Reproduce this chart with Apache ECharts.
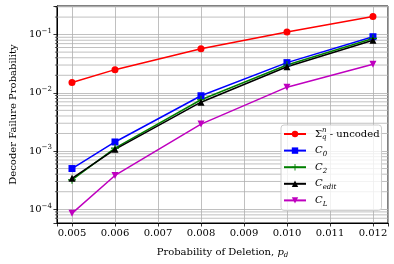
<!DOCTYPE html>
<html><head><meta charset="utf-8">
<script src="https://cdn.jsdelivr.net/npm/echarts@6/dist/echarts.min.js"></script>
<style>html,body{margin:0;padding:0;background:#fff}#c{width:394px;height:264px}</style>
</head><body><div id="c"></div>
<script>
// ---- data ----
const xValues = [0.005, 0.006, 0.008, 0.010, 0.012];
const seriesNames = ['uncoded', 'C0', 'C2', 'Cedit', 'CL'];
const uncoded = [0.0150, 0.025, 0.057, 0.111, 0.204];
const c0 = [5.0e-4, 1.43e-3, 8.9e-3, 0.033, 0.092];
const c2 = [3.2e-4, 1.12e-3, 7.6e-3, 0.030, 0.086];
const cEdit = [3.4e-4, 1.07e-3, 6.9e-3, 0.028, 0.080];
const cL = [8.5e-5, 3.8e-4, 2.9e-3, 0.0125, 0.031];
const yMinorTicks = [7e-5, 8e-5, 9e-5,
  2e-4, 3e-4, 4e-4, 5e-4, 6e-4, 7e-4, 8e-4, 9e-4,
  2e-3, 3e-3, 4e-3, 5e-3, 6e-3, 7e-3, 8e-3, 9e-3,
  2e-2, 3e-2, 4e-2, 5e-2, 6e-2, 7e-2, 8e-2, 9e-2,
  2e-1, 3e-1];
const X_MIN = 0.00465, X_MAX = 0.01235, Y_MIN = 5.8e-5, Y_MAX = 0.31;

const FONT = 'DejaVu Serif';
const pair = (ys) => xValues.map((x, i) => [x, ys[i]]);
const legendLabels = {
  uncoded: '{m|Σ}{subq|q}{sup|n}{m| - uncoded}',
  C0: '{i|C}{sub|0}',
  C2: '{i|C}{sub|2}',
  Cedit: '{i|C}{sub|edit}',
  CL: '{i|C}{sub|L}'
};
const plusPath = 'path://M4.3,0H5.7V4.3H10V5.7H5.7V10H4.3V5.7H0V4.3H4.3Z';

const chart = echarts.init(document.getElementById('c'), null, {renderer: 'canvas'});
const lineSeries = (name, data, color, symbol, size, extra) => Object.assign({
  name, type: 'line', data: pair(data), symbol, symbolSize: size,
  lineStyle: {color, width: 1.5}, itemStyle: {color},
  z: 3, animation: false, emphasis: {disabled: true}
}, extra || {});

chart.setOption({
  animation: false,
  grid: {left: 53, right: 6, top: 6, bottom: 41, show: true, borderColor: '#000', borderWidth: 1, backgroundColor: 'transparent'},
  xAxis: {
    type: 'value', min: X_MIN, max: X_MAX, minInterval: 0.001, maxInterval: 0.001,
    axisLine: {show: true, lineStyle: {color: '#000', width: 1}},
    axisTick: {show: true, length: 3.5, lineStyle: {color: '#000', width: 0.8}},
    axisLabel: {
      margin: 5, color: '#000', fontFamily: FONT, fontSize: 10,
      formatter: v => Math.abs(v * 1000 - Math.round(v * 1000)) < 1e-6 ? v.toFixed(3) : ''
    },
    splitLine: {show: true, lineStyle: {color: '#b0b0b0', width: 0.8}},
    name: '{m|Probability of Deletion, }{it|p}{sub|d}', nameLocation: 'middle', nameGap: 22,
    nameTextStyle: {color: '#000', fontFamily: FONT, fontSize: 10,
      rich: {m: {fontFamily: FONT, fontSize: 10, color: '#000', lineHeight: 14},
             it: {fontFamily: FONT, fontSize: 10, fontStyle: 'italic', color: '#000', lineHeight: 14},
             sub: {fontFamily: FONT, fontSize: 7, fontStyle: 'italic', color: '#000', lineHeight: 8, verticalAlign: 'bottom'}}}
  },
  yAxis: {
    type: 'log', logBase: 10, min: Y_MIN, max: Y_MAX,
    axisLine: {show: true, lineStyle: {color: '#000', width: 1}},
    axisTick: {show: true, length: 3.5, lineStyle: {color: '#000', width: 0.8}},
    axisLabel: {
      margin: 5, color: '#000', fontFamily: FONT, fontSize: 10,
      formatter: v => {
        const l = Math.log10(v), e = Math.round(l);
        if (Math.abs(l - e) > 1e-6) return '';
        return '{b|10}{sup|' + (e < 0 ? '−' : '') + Math.abs(e) + '}';
      },
      rich: {b: {fontFamily: FONT, fontSize: 10, color: '#000', lineHeight: 14},
             sup: {fontFamily: FONT, fontSize: 7, color: '#000', lineHeight: 8, verticalAlign: 'top'}}
    },
    splitLine: {show: true, lineStyle: {color: '#b0b0b0', width: 0.8}},
    name: 'Decoder Failure Probability', nameLocation: 'middle', nameGap: 37,
    nameTextStyle: {color: '#000', fontFamily: FONT, fontSize: 10}
  },
  legend: {
    data: seriesNames, orient: 'vertical', left: 281, top: 125,
    padding: [2, 2, 3, 2], itemGap: 4.6, itemWidth: 22, itemHeight: 8,
    backgroundColor: 'rgba(255,255,255,0.8)', borderColor: '#cccccc', borderWidth: 1, borderRadius: 3,
    formatter: n => legendLabels[n],
    textStyle: {color: '#000', fontFamily: FONT, fontSize: 10, padding: [0, 0, 0, 4],
      rich: {m: {fontFamily: FONT, fontSize: 10, color: '#000', lineHeight: 14},
             i: {fontFamily: FONT, fontSize: 10, fontStyle: 'italic', color: '#000', lineHeight: 14},
             sub: {fontFamily: FONT, fontSize: 7, fontStyle: 'italic', color: '#000', lineHeight: 8, verticalAlign: 'bottom'},
             subq: {fontFamily: FONT, fontSize: 7, fontStyle: 'italic', color: '#000', lineHeight: 8, verticalAlign: 'bottom', width: 0},
             sup: {fontFamily: FONT, fontSize: 7, fontStyle: 'italic', color: '#000', lineHeight: 8, verticalAlign: 'top'}}}
  },
  series: [
    {
      name: 'minor', type: 'custom', coordinateSystem: 'cartesian2d', clip: false, z: 1, silent: true,
      animation: false,
      data: yMinorTicks.map(v => [X_MIN, v]),
      renderItem: (params, api) => {
        const p = api.coord([X_MIN, api.value(1)]);
        const q = api.coord([X_MAX, api.value(1)]);
        return {type: 'group', children: [
          {type: 'line', shape: {x1: p[0], y1: p[1], x2: q[0], y2: q[1]},
           style: {stroke: '#b0b0b0', lineWidth: 0.8}},
          {type: 'line', shape: {x1: p[0] - 2, y1: p[1], x2: p[0], y2: p[1]},
           style: {stroke: '#000', lineWidth: 0.6}}
        ]};
      }
    },
    lineSeries('uncoded', uncoded, '#ff0000', 'circle', 7),
    lineSeries('C0', c0, '#0000ff', 'rect', 7),
    lineSeries('C2', c2, '#008000', plusPath, 8),
    lineSeries('Cedit', cEdit, '#000000', 'triangle', 7),
    lineSeries('CL', cL, '#bf00bf', 'triangle', 7, {symbolRotate: 180})
  ]
});
</script>
</body></html>
